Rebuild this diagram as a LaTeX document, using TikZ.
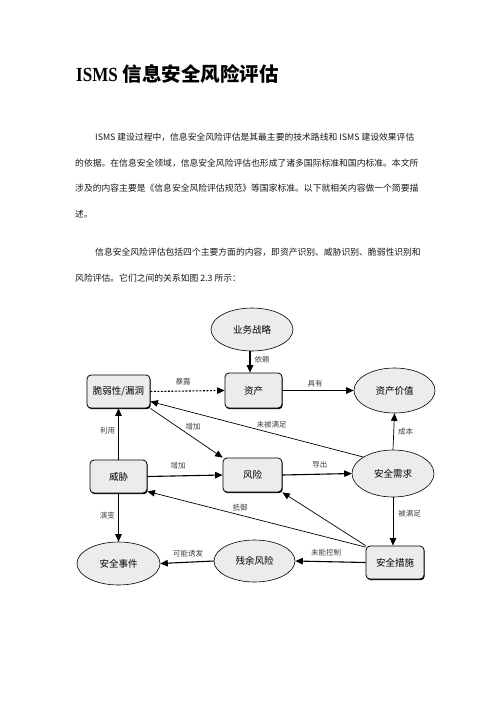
\documentclass[tikz,border=0pt]{standalone}
\usepackage{fontspec}
\usepackage{graphicx}
\newfontfamily\cjk{Noto Sans CJK SC}
\newfontfamily\titlelat{Liberation Serif}
\usetikzlibrary{shapes.geometric,arrows.meta,shadows}
\begin{document}
\begin{tikzpicture}[x=1pt,y=-1pt,
  box/.style={draw=black, line width=0.8pt, rounded corners=4pt, fill=gray!15, inner sep=0pt,
    font=\cjk\fontsize{9.5}{10}\selectfont,
    drop shadow={shadow xshift=0.7pt, shadow yshift=-1.2pt, opacity=1, fill=black}},
  ell/.style={draw=black, line width=0.6pt, ellipse, fill=gray!15, inner sep=0pt,
    font=\cjk\fontsize{9.5}{10}\selectfont},
  lbl/.style={font=\cjk\fontsize{7.5}{8}\selectfont, inner sep=1pt, text=black!75},
  con/.style={line width=0.7pt, -{Triangle[length=7.5pt,width=6.5pt]}},
  heavy/.style={con, line width=1.1pt},
  body/.style={anchor=west, inner sep=0pt, font=\cjk\fontsize{8.8}{10}\selectfont, text=black!90}
]
\fill[white] (0,0) rectangle (496,702);
\useasboundingbox (0,0) rectangle (496,702);

% title and text
\node[anchor=west, inner sep=0pt] (title) at (76,74)
  {\scalebox{0.85}[1]{\titlelat\bfseries\fontsize{20}{20}\selectfont ISMS}\hspace{5pt}{\cjk\bfseries\fontsize{19.5}{20}\selectfont 信息安全风险评估}};
\node[body] (p1a) at (95,137) {ISMS 建设过程中，信息安全风险评估是其最主要的技术路线和 ISMS 建设效果评估};
\node[body] (p1b) at (75,163) {的依据。在信息安全领域，信息安全风险评估也形成了诸多国际标准和国内标准。本文所};
\node[body] (p1c) at (75,188) {涉及的内容主要是《信息安全风险评估规范》等国家标准。以下就相关内容做一个简要描};
\node[body] (p1d) at (75,214) {述。};
\node[body] (p2a) at (95,252) {信息安全风险评估包括四个主要方面的内容，即资产识别、威胁识别、脆弱性识别和};
\node[body] (p2b) at (75,278) {风险评估。它们之间的关系如图 2.3 所示：};

% diagram nodes
\node[ell, minimum width=82pt, minimum height=43pt] (strat) at (252,329.5) {业务战略};
\node[box, minimum width=63pt, minimum height=33pt] (vul) at (118.5,391.5) {脆弱性/漏洞};
\node[box, minimum width=57pt, minimum height=35pt] (asset) at (253.5,390.5) {资产};
\node[ell, minimum width=81pt, minimum height=45pt] (value) at (394.5,390.5) {资产价值};
\node[box, minimum width=57pt, minimum height=33pt] (threat) at (118.5,476.5) {威胁};
\node[box, minimum width=59pt, minimum height=34pt] (risk) at (252.5,475) {风险};
\node[ell, minimum width=82pt, minimum height=47pt] (req) at (393,473.5) {安全需求};
\node[ell, minimum width=83pt, minimum height=43pt] (event) at (118.5,563.5) {安全事件};
\node[ell, minimum width=81pt, minimum height=42pt] (resid) at (254.5,561) {残余风险};
\node[box, minimum width=58pt, minimum height=33pt] (meas) at (395,562.5) {安全措施};

% connectors
\draw[heavy] (strat.south -| 250,0) -- (asset.north -| 250,0)
  node[lbl, right=3pt, pos=0.4] {依赖};
\draw[heavy, dash pattern=on 2pt off 1.5pt] (vul.east) -- (asset.west)
  node[lbl, above=4pt, pos=0.44] {暴露};
\draw[heavy] (asset.east) -- (value.west)
  node[lbl, above=2pt, pos=0.46] {具有};
\draw[con] (threat.north) -- (vul.south)
  node[lbl, left=2pt, pos=0.57] {利用};
\draw[con] (vul.south east) -- (risk.north west)
  node[lbl, above right=0pt, pos=0.47] {增加};
\draw[con] (req.151) -- ([yshift=-10pt]vul.east)
  node[lbl, above=4pt, pos=0.43] {未被满足};
\draw[heavy] (threat.east) -- (risk.west)
  node[lbl, above=5pt, pos=0.41] {增加};
\draw[heavy] (risk.east) -- (req.west)
  node[lbl, above=5pt, pos=0.54] {导出};
\draw[con] (req.north) -- (value.south)
  node[lbl, right=3pt, pos=0.49] {成本};
\draw[con] (req.south) -- (meas.north -| req.south)
  node[lbl, right=4pt, pos=0.33] {被满足};
\draw[con] (meas.north west) -- (risk.south east);
\draw[con] ([yshift=-1.5pt]meas.north west) -- ([yshift=2pt]threat.south east)
  node[lbl, above=3pt, pos=0.575] {抵御};
\draw[heavy] (meas.west) -- (resid.east)
  node[lbl, above=4pt, pos=0.56] {未能控制};
\draw[heavy] (resid.west) -- (event.east)
  node[lbl, above=4pt, pos=0.48] {可能诱发};
\draw[heavy] (threat.south) -- (event.north)
  node[lbl, left=2pt, pos=0.45] {演变};
\end{tikzpicture}
\end{document}
